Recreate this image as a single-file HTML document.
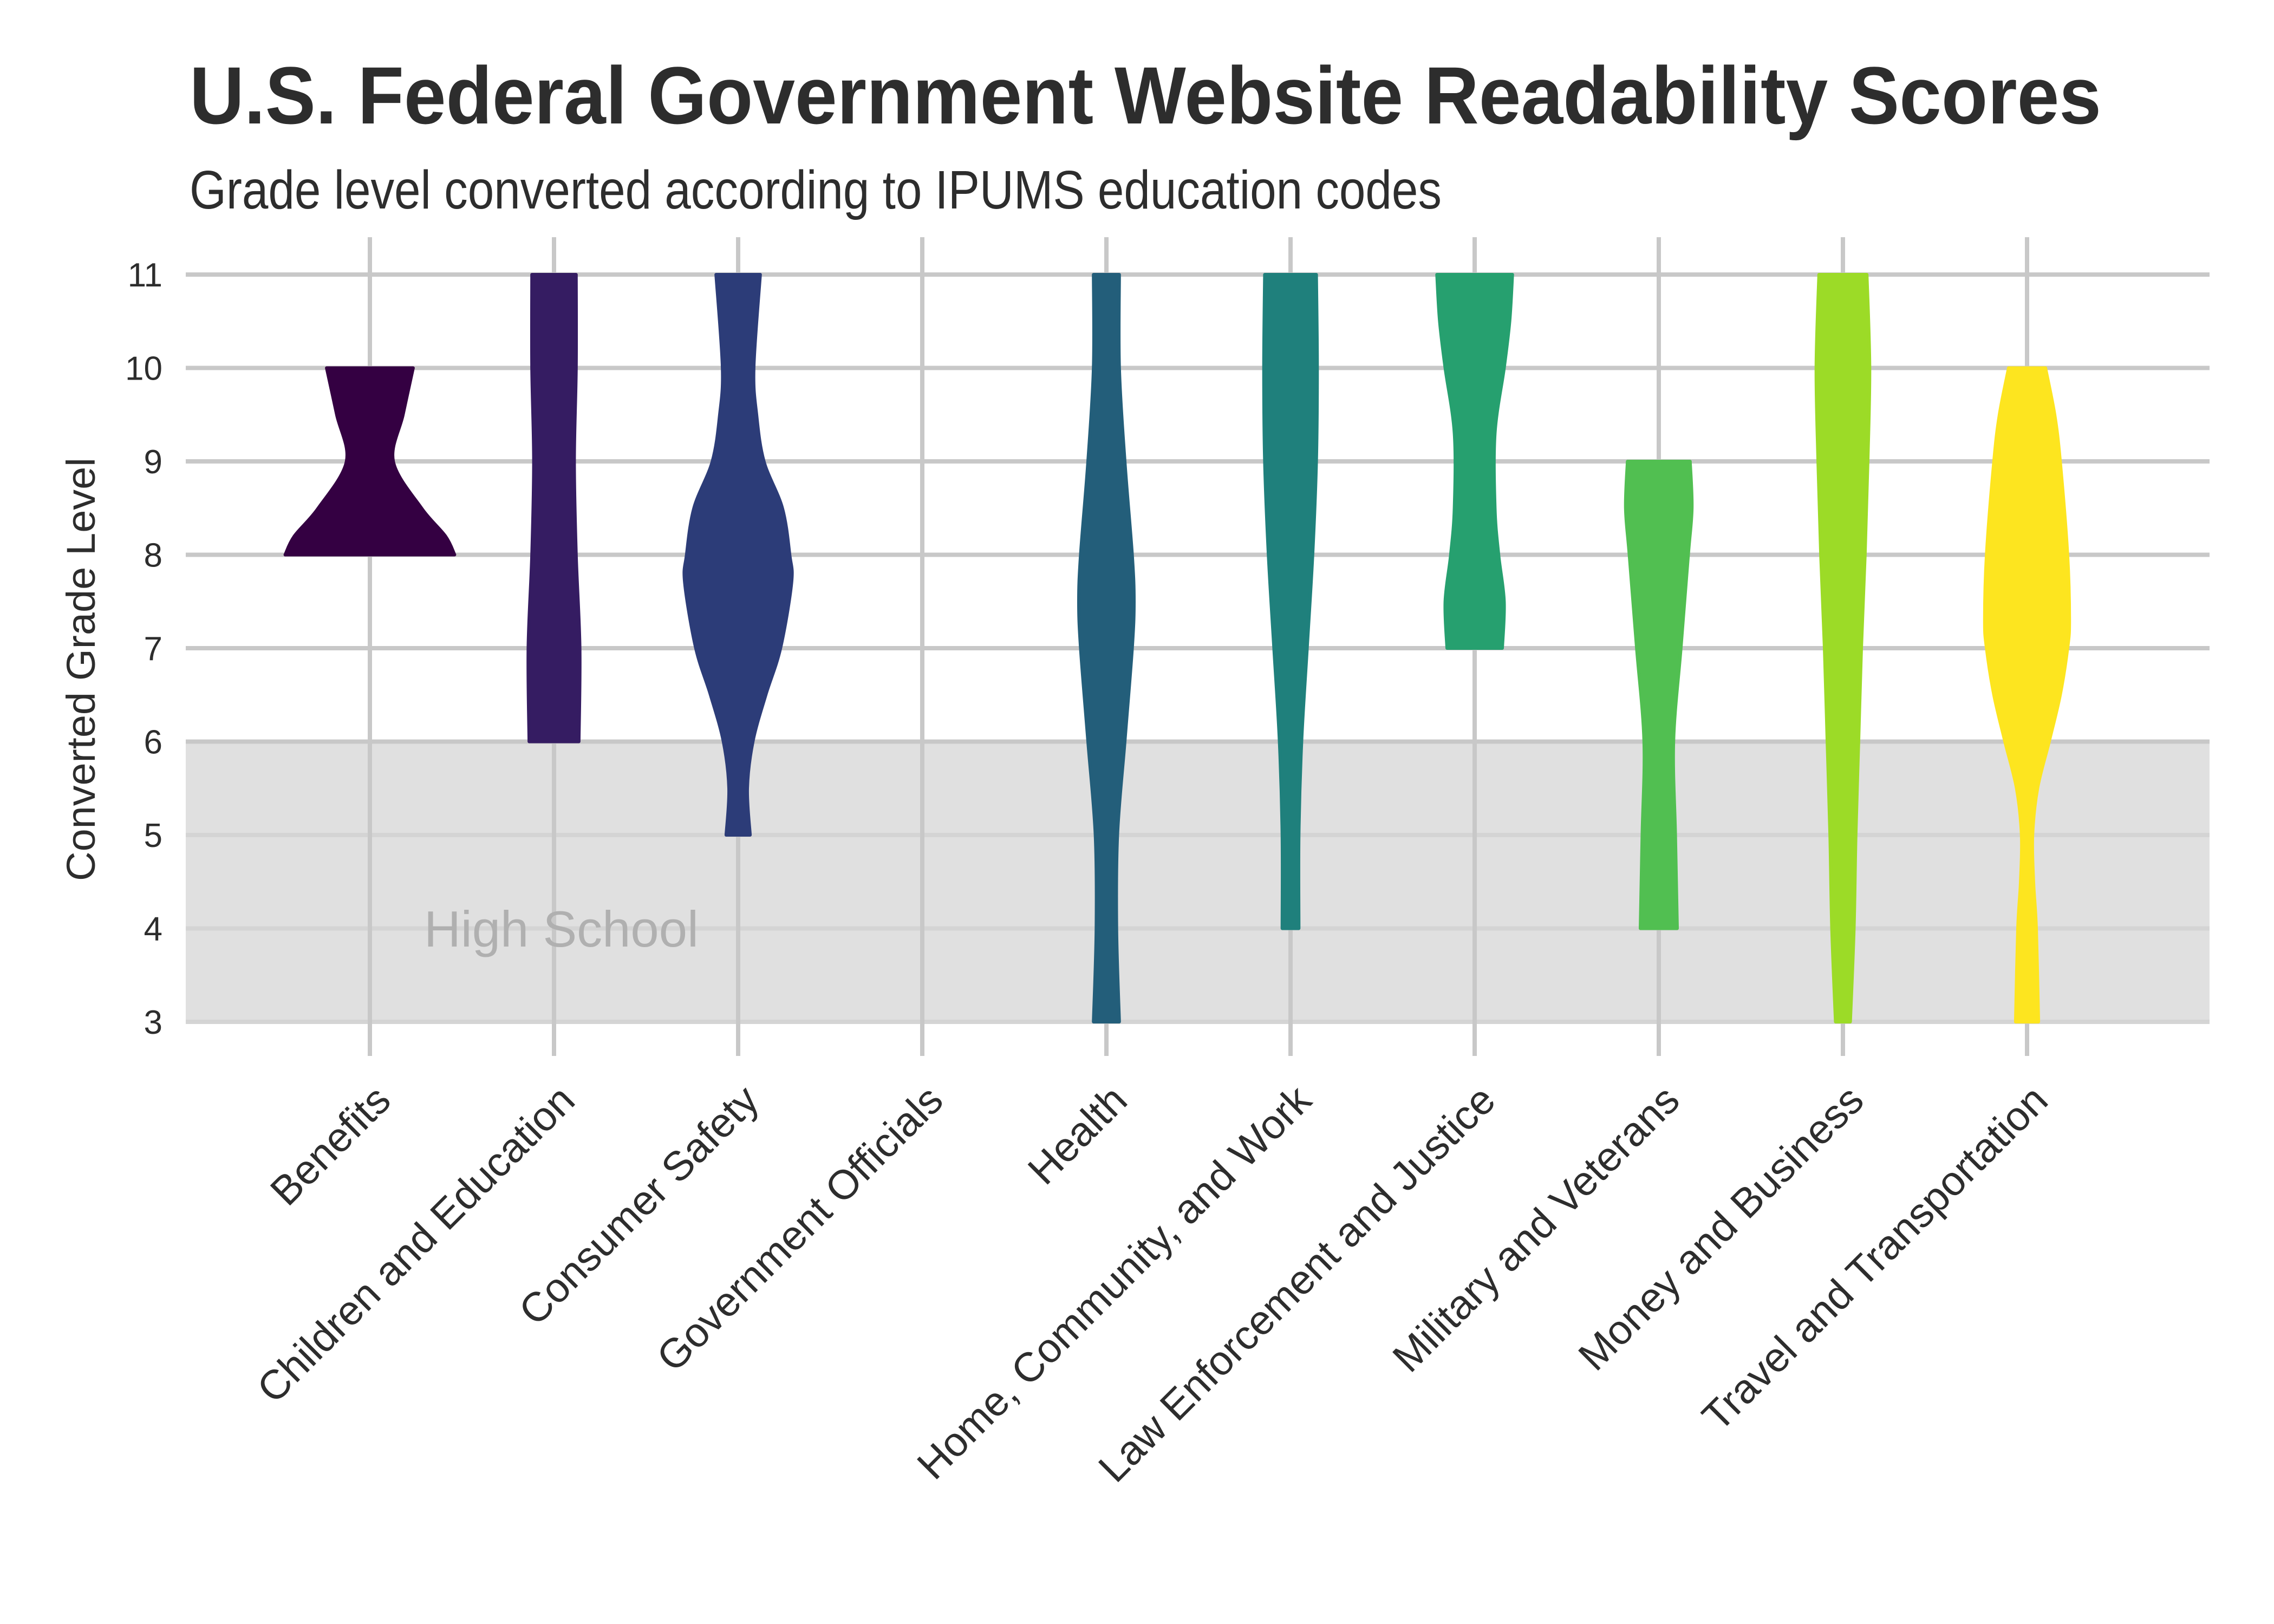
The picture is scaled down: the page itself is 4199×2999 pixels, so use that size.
<!DOCTYPE html>
<html><head><meta charset="utf-8">
<style>
html,body{margin:0;padding:0;background:#fff;}
svg{display:block;font-family:"Liberation Sans",sans-serif;}
</style></head>
<body>
<svg id="chart" width="4199" height="2999" viewBox="0 0 4199 2999" xmlns="http://www.w3.org/2000/svg">
<rect width="4199" height="2999" fill="#fff"/>
<text x="350" y="228" font-size="150" font-weight="bold" fill="#2d2d2d" textLength="3530" lengthAdjust="spacingAndGlyphs">U.S. Federal Government Website Readability Scores</text>
<text x="350" y="385" font-size="100" fill="#2d2d2d" textLength="2312" lengthAdjust="spacingAndGlyphs">Grade level converted according to IPUMS education codes</text>
<g id="plot"></g>
</svg>
<script>
const categories = ["Benefits","Children and Education","Consumer Safety","Government Officials","Health","Home, Community, and Work","Law Enforcement and Justice","Military and Veterans","Money and Business","Travel and Transportation"];
const yTicks = [3,4,5,6,7,8,9,10,11];
const colors = ["#340042","#351c62","#2c3c78",null,"#235e7a","#1f807c","#26a06f","#51bf51","#9cdb27","#fde51f"];
// grade levels at which density half-widths are read (per violin, bottom to top)
const violinY = [
  [8,8.2,8.5,9,9.5,10],
  [6,7,8,9,10,11],
  [5,5.5,6,6.5,7,7.7,8,8.5,9,9.5,10,11],
  [],
  [3,4,5,6,7,7.5,8,9,10,11],
  [4,5,6,7,8,9,10,11],
  [7,7.5,8,8.5,9.3,10,10.5,11],
  [4,5,6,7,8,8.5,9],
  [3,4,5,6,7,8,9,10,11],
  [3,4,4.5,5,5.5,6,6.5,7,7.3,8,9,9.5,10]
];
// half-widths as fraction of category spacing
const violinW = [
  [0.46,0.41,0.28,0.127,0.18,0.235],
  [0.135,0.14,0.12,0.11,0.12,0.12],
  [0.065,0.05,0.08,0.15,0.23,0.29,0.28,0.24,0.14,0.1,0.085,0.12],
  [],
  [0.07,0.055,0.06,0.1,0.14,0.15,0.14,0.1,0.07,0.07],
  [0.045,0.045,0.06,0.09,0.12,0.14,0.145,0.14],
  [0.15,0.16,0.13,0.11,0.11,0.16,0.19,0.205],
  [0.1,0.09,0.08,0.12,0.16,0.18,0.17],
  [0.04,0.06,0.07,0.085,0.1,0.12,0.135,0.145,0.13],
  [0.062,0.05,0.035,0.03,0.057,0.12,0.18,0.22,0.23,0.22,0.18,0.15,0.1]
];
const NS="http://www.w3.org/2000/svg";
const g=document.getElementById('plot');
const X0=683, DX=340, L=343, R=4080;
const xs=i=>X0+i*DX;
const ys=v=>507+(11-v)*172.5;
function mk(tag,attrs,parent){const e=document.createElementNS(NS,tag);for(const k in attrs)e.setAttribute(k,attrs[k]);(parent||g).appendChild(e);return e;}
let band=mk('rect',{x:L,y:ys(6),width:R-L,height:ys(3)-ys(6),fill:'#e0e0e0'});


yTicks.forEach(t=>{
  let l=mk('line',{x1:L,x2:R,y1:ys(t),y2:ys(t),stroke:t<6?'#d4d4d4':'#c8c8c8','stroke-width':8});
  
  
  let tx=mk('text',{x:300,y:ys(t)+22,'text-anchor':'end','font-size':62,fill:'#2d2d2d'});
  tx.textContent=t;
  
  
});
categories.forEach((c,i)=>{
  let l=mk('line',{x1:xs(i),x2:xs(i),y1:438,y2:1950,stroke:'#c8c8c8','stroke-width':8});
  
  
});
let hs=mk('text',{x:783,y:1748,'font-size':94,fill:'#b0b0b0'});
hs.textContent='High School';


function smooth(pts){
  let d='';
  for(let i=0;i<pts.length-1;i++){
    const p0=pts[Math.max(0,i-1)],p1=pts[i],p2=pts[i+1],p3=pts[Math.min(pts.length-1,i+2)];
    const c1=[p1[0]+(p2[0]-p0[0])/6,p1[1]+(p2[1]-p0[1])/6];
    const c2=[p2[0]-(p3[0]-p1[0])/6,p2[1]-(p3[1]-p1[1])/6];
    d+=` C${c1[0]},${c1[1]} ${c2[0]},${c2[1]} ${p2[0]},${p2[1]}`;
  }
  return d;
}
categories.forEach((c,i)=>{
  const Y=violinY[i],W=violinW[i];
  if(!Y.length) return;
  const cx=xs(i);
  const right=Y.map((v,k)=>[cx+W[k]*DX,ys(v)]);
  const left=Y.map((v,k)=>[cx-W[k]*DX,ys(v)]).reverse();
  let d=`M${cx-W[0]*DX},${ys(Y[0])} L${right[0][0]},${right[0][1]}`+smooth(right)+` L${left[0][0]},${left[0][1]}`+smooth(left)+' Z';
  let p=mk('path',{d:d,fill:colors[i],stroke:colors[i],'stroke-width':6,'stroke-linejoin':'round'});
  
  
});
categories.forEach((c,i)=>{
  let t=mk('text',{transform:`translate(${xs(i)+4},${1998}) rotate(-45)`,'text-anchor':'end','font-size':76,fill:'#2d2d2d','dominant-baseline':'hanging'});
  t.textContent=c;
  
  
});
let yt=mk('text',{transform:'translate(175,1236) rotate(-90)','text-anchor':'middle','font-size':74,fill:'#2d2d2d',textLength:782,lengthAdjust:'spacingAndGlyphs'});
yt.textContent='Converted Grade Level';


</script>
</body></html>
